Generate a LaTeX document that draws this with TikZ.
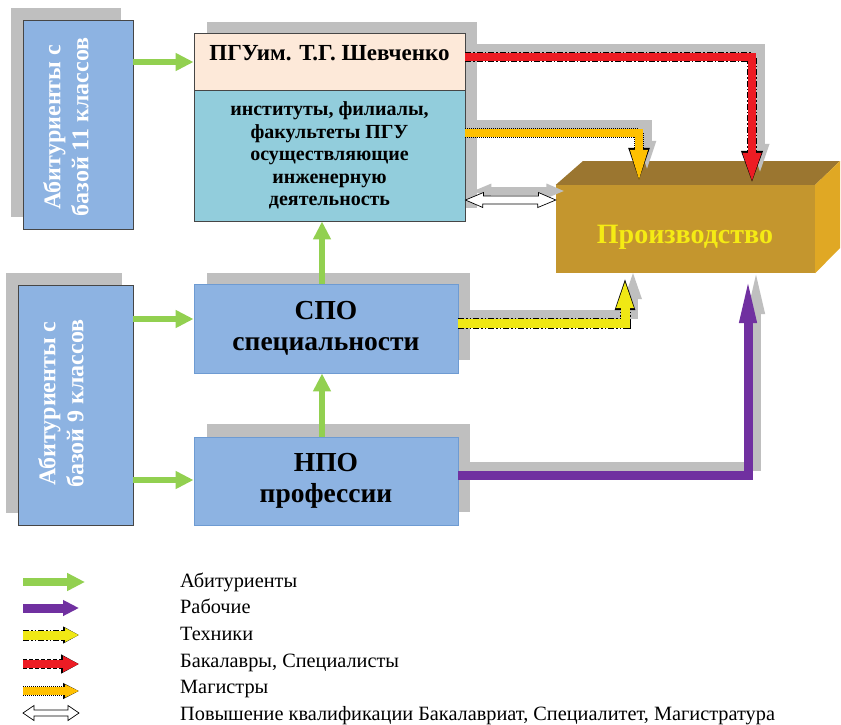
\documentclass[tikz,border=0pt]{standalone}
\usepackage{fontspec}
\setmainfont{Liberation Serif}
\usetikzlibrary{arrows.meta}
\definecolor{boxblue}{RGB}{141,179,226}
\definecolor{boxedge}{RGB}{70,70,70}
\definecolor{blueedge}{RGB}{110,155,210}
\definecolor{peach}{RGB}{253,233,217}
\definecolor{pgubot}{RGB}{146,205,220}
\definecolor{shadowc}{RGB}{191,191,191}
\definecolor{grn}{RGB}{146,208,80}
\definecolor{purp}{RGB}{112,48,160}
\definecolor{yel}{RGB}{240,232,20}
\definecolor{redar}{RGB}{237,28,36}
\definecolor{orng}{RGB}{255,192,0}
\definecolor{pfront}{RGB}{196,150,46}
\definecolor{ptop}{RGB}{155,118,48}
\definecolor{pright}{RGB}{224,168,36}
\definecolor{ptext}{RGB}{245,235,20}
\begin{document}
\begin{tikzpicture}[x=1pt,y=-1pt,
  shd/.style={fill=shadowc,draw=none},
  darkbox/.style={draw=boxedge,line width=0.9pt,fill=boxblue,inner sep=0pt},
  lightbox/.style={draw=blueedge,line width=0.9pt,fill=boxblue,inner sep=0pt,
     font=\bfseries\fontsize{27.5}{31}\selectfont,align=center},
  rottext/.style={rotate=90,text=white,align=center,inner sep=0pt,font=\bfseries\fontsize{24}{28}\selectfont},
  grarrow/.style={draw=grn,line width=6.5pt,-{Triangle[length=18pt,width=17pt]}},
  sharrow/.style={draw=shadowc,line width=9pt,line join=miter},
  legtext/.style={anchor=base west,inner sep=0pt,font=\fontsize{20.3}{22}\selectfont},
]
\useasboundingbox (0,0) rectangle (841,724);
\fill[white] (0,0) rectangle (841,724);

% box shadows
\fill[shd] (11,8) rectangle (121,217);
\fill[shd] (6,273) rectangle (122,513);
\fill[shd] (207,22) rectangle (477,208);
\fill[shd] (207,273) rectangle (470,360);
\fill[shd] (207,424) rectangle (470,512);

% left boxes
\node[darkbox,minimum width=110pt,minimum height=209pt] (a11) at (78,124.5) {};
\node[darkbox,minimum width=115pt,minimum height=240pt] (a9) at (75.5,405) {};
\node[rottext] (t11) at (66,127) {Абитуриенты с\\базой 11 классов};
\node[rottext] (t9) at (61,403.5) {Абитуриенты с\\базой 9 классов};

% PGU
\node[draw=boxedge,line width=0.9pt,fill=peach,minimum width=271pt,minimum height=57pt,inner sep=0pt] (pguh) at (329.5,61.5) {};
\node[inner sep=0pt,anchor=base,font=\bfseries\fontsize{23}{25}\selectfont] (pgut) at (329.5,60) {ПГУим. Т.Г. Шевченко};
\node[draw=boxedge,line width=0.9pt,fill=pgubot,minimum width=271pt,minimum height=131pt,inner sep=0pt,align=center,font=\bfseries\fontsize{20}{22.5}\selectfont] (pgu) at (329.5,155.5) {институты, филиалы,\\факультеты ПГУ\\осуществляющие\\инженерную\\деятельность};

% SPO / NPO
\node[lightbox,minimum width=264pt,minimum height=89pt] (spo) at (326,328.5) {СПО\\специальности};
\node[lightbox,minimum width=264pt,minimum height=88pt] (npo) at (326,481) {НПО\\профессии};

% production block
\node[fill=pfront,minimum width=259pt,minimum height=88pt,inner sep=0pt] (prod) at (685.5,229) {};
\fill[ptop] (prod.north west) -- (583,161) -- (840,161) -- (prod.north east) -- cycle;
\fill[pright] (prod.north east) -- (840,161) -- (840,248) -- (prod.south east) -- cycle;
\node[anchor=base,inner sep=0pt,text=ptext,font=\bfseries\fontsize{28}{30}\selectfont] (prodt) at (685,243) {Производство};

% green arrows
\draw[grarrow] (a11.east |- 0,62) -- (pguh.west |- 0,62);
\draw[grarrow] (a9.east |- 0,319) -- (spo.west |- 0,319);
\draw[grarrow] (a9.east |- 0,480) -- (npo.west |- 0,480);
\draw[grarrow] (322,0 |- spo.north) -- (322,0 |- pgu.south);
\draw[grarrow] (322,0 |- npo.north) -- (322,0 |- spo.south);

% arrow shadows
\begin{scope}[transform canvas={xshift=8pt,yshift=9pt}]
\draw[sharrow,-{Triangle[length=32pt,width=16pt]}] (pguh.east |- 0,57) -| (752,0 |- prod.north);
\draw[sharrow,-{Triangle[length=35pt,width=15pt]}] (pgu.east |- 0,133) -| (639,0 |- prod.north);
\draw[sharrow,-{Triangle[length=35pt,width=14pt]}] (spo.east |- 0,323) -| (625,0 |- prod.south);
\draw[sharrow,-{Triangle[length=50pt,width=15pt]}] (npo.east |- 0,475) -| (748,0 |- prod.south);
\fill[shadowc] (pgu.east |- 0,200) -- ++(18,-7.5) -- ++(0,3.5) -- ++(55,0) -- ++(0,-3.5) -- (prod.west |- 0,200) -- ++(-18,7.5) -- ++(0,-3.5) -- ++(-55,0) -- ++(0,3.5) -- cycle;
\end{scope}

% red arrow (bachelors)
\draw[black,line width=10pt,line join=miter,dash pattern=on 6pt off 2pt on 1.5pt off 2pt,-{Triangle[length=34pt,width=19pt]}] (pguh.east |- 0,57) -| (752,0 |- prod.north);
\draw[redar,line width=8pt,line join=miter,-{Triangle[length=32pt,width=16pt]}] (pguh.east |- 0,57) -| (752,0 |- prod.north);
% orange arrow (masters)
\draw[black,line width=10pt,line join=miter,dash pattern=on 1pt off 1pt,-{Triangle[length=37pt,width=18pt]}] (pgu.east |- 0,133) -| (639,0 |- prod.north);
\draw[orng,line width=8pt,line join=miter,-{Triangle[length=35pt,width=15pt]}] (pgu.east |- 0,133) -| (639,0 |- prod.north);
% yellow arrow (technicians)
\draw[black,line width=11pt,line join=miter,dash pattern=on 6pt off 2pt on 1.5pt off 2pt on 1.5pt off 2pt,-{Triangle[length=37pt,width=17pt]}] (spo.east |- 0,323) -| (625,0 |- prod.south);
\draw[yel,line width=9pt,line join=miter,-{Triangle[length=35pt,width=14pt]}] (spo.east |- 0,323) -| (625,0 |- prod.south);
% purple arrow (workers)
\draw[purp,line width=9pt,line join=miter,-{Triangle[length=50pt,width=15pt]}] (npo.east |- 0,475) -| (748,0 |- prod.south);
% white double arrow
\filldraw[fill=white,draw=black,line width=0.7pt] (pgu.east |- 0,200) -- ++(18,-7.5) -- ++(0,3.5) -- ++(55,0) -- ++(0,-3.5) -- (prod.west |- 0,200) -- ++(-18,7.5) -- ++(0,-3.5) -- ++(-55,0) -- ++(0,3.5) -- cycle;

% legend
\coordinate (lg1) at (23,582); \coordinate (lg1e) at (85,582);
\coordinate (lg2) at (23,608); \coordinate (lg2e) at (79,608);
\coordinate (lg3) at (23,635); \coordinate (lg3e) at (79,635);
\coordinate (lg4) at (23,664); \coordinate (lg4e) at (79,664);
\coordinate (lg5) at (23,691); \coordinate (lg5e) at (79,691);
\coordinate (lg6) at (23,713); \coordinate (lg6e) at (79,713);
\draw[grn,line width=7.5pt,-{Triangle[length=18pt,width=17pt]}] (lg1) -- (lg1e);
\draw[purp,line width=9pt,-{Triangle[length=16pt,width=15pt]}] (lg2) -- (lg2e);
\draw[black,line width=11pt,dash pattern=on 6pt off 2pt on 1.5pt off 2pt on 1.5pt off 2pt,-{Triangle[length=16pt,width=16pt]}] (lg3) -- (lg3e);
\draw[yel,line width=9pt,-{Triangle[length=14pt,width=13pt]}] (lg3) -- (lg3e);
\draw[black,line width=10pt,dash pattern=on 4pt off 2pt,-{Triangle[length=18pt,width=18pt]}] (lg4) -- (lg4e);
\draw[redar,line width=8pt,-{Triangle[length=16pt,width=15pt]}] (lg4) -- (lg4e);
\draw[black,line width=10pt,dash pattern=on 1pt off 1pt,-{Triangle[length=16pt,width=15pt]}] (lg5) -- (lg5e);
\draw[orng,line width=8pt,-{Triangle[length=14pt,width=12pt]}] (lg5) -- (lg5e);
\filldraw[fill=white,draw=black,line width=0.7pt] (lg6) -- ++(11,-7.5) -- ++(0,4.5) -- ++(34,0) -- ++(0,-4.5) -- (lg6e) -- ++(-11,7.5) -- ++(0,-4.5) -- ++(-34,0) -- ++(0,4.5) -- cycle;

\node[legtext] (lt1) at (180,587) {Абитуриенты};
\node[legtext] (lt2) at (180,613.5) {Рабочие};
\node[legtext] (lt3) at (180,640) {Техники};
\node[legtext] (lt4) at (180,667) {Бакалавры, Специалисты};
\node[legtext] (lt5) at (180,693.5) {Магистры};
\node[legtext] (lt6) at (180,720) {Повышение квалификации Бакалавриат, Специалитет, Магистратура};
\end{tikzpicture}
\end{document}
